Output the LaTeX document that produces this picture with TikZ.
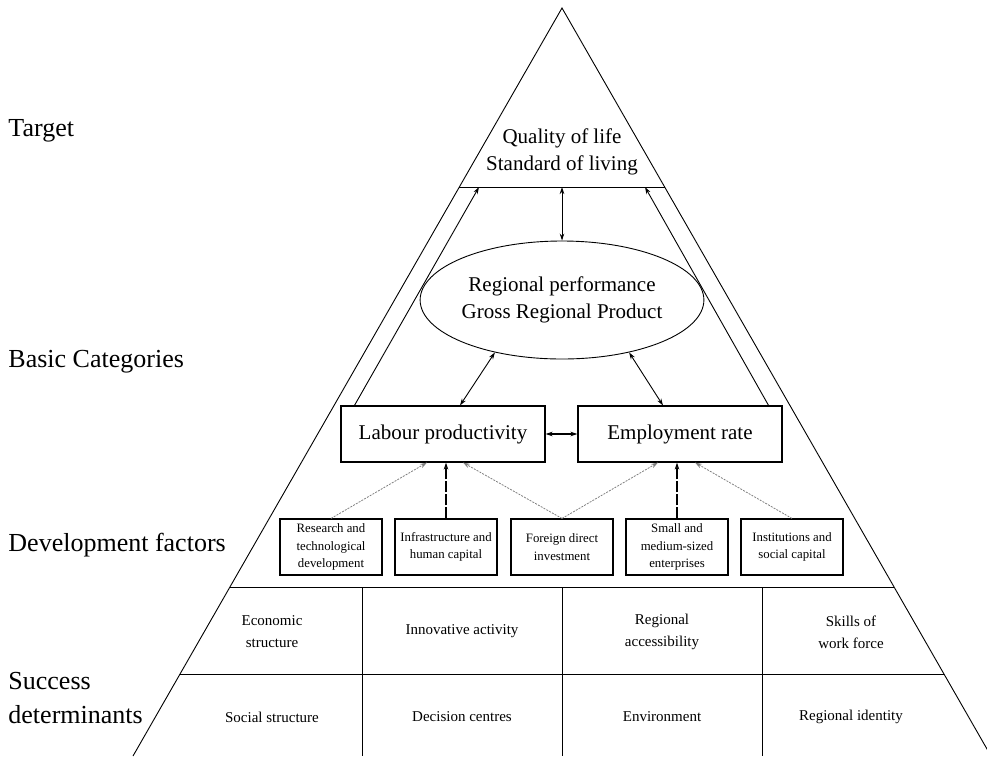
\documentclass[tikz,border=0pt]{standalone}
\usepackage{fontspec}
\setmainfont{Liberation Serif}
\usetikzlibrary{shapes.geometric,arrows.meta,calc}

\begin{document}
\begin{tikzpicture}[x=1pt, y=-1pt, line width=0.9pt, >={Stealth[length=7pt, width=4.5pt]},
	level/.style = {anchor=west, align=left, inner sep=0pt, font=\fontsize{26}{34}\selectfont},
	big/.style = {align=center, font=\fontsize{21}{27}\selectfont},
	category/.style = {big, draw, line width=1.1pt, minimum width=204pt, minimum height=56pt},
	factor/.style = {draw, line width=1.1pt, minimum width=102pt, minimum height=56pt, inner sep=0pt, align=center, font=\fontsize{12.8}{17.5}\selectfont},
	cell/.style = {align=center, font=\fontsize{15}{22}\selectfont},
	weak/.style = {gray, line width=0.8pt, dash pattern=on 2pt off 1.2pt},
	strong/.style = {line width=1.8pt, dash pattern=on 11pt off 2pt}]
					\useasboundingbox (0,0) rectangle (987,756);
					% levels
					\node[level] (target) at (8,131) {Target};
					\node[level] (basic) at (8,362) {Basic Categories};
					\node[level] (devel) at (8,545) {Development factors};
					\node[level] (success) at (8,698) {Success\\determinants};
					% pyramid
					\coordinate (apex) at (562,8);
					\coordinate (bl) at (133,756);
					\coordinate (br) at (991,756);
					\draw (bl) -- (apex) -- (br);
					\coordinate (t1) at ($(apex)!0.2393!(bl)$);
					\coordinate (t2) at ($(apex)!0.2393!(br)$);
					\draw (t1) -- (t2);
					\coordinate (ql) at (479,187);
					\coordinate (qm) at (562,187);
					\coordinate (qr) at (645,187);
					\node[big] (qol) at (562,152) {Quality of life\\Standard of living};
					\node[big, ellipse, draw, minimum width=270pt, minimum height=118pt, inner sep=0pt] (perf) at (562,300) {Regional performance\\Gross Regional Product};
					\node[category] (lab) at (443,434) {Labour productivity};
					\node[category] (emp) at (680,434) {Employment rate};
					\draw[<->] (qm) -- (perf.north);
					\draw[->] ([xshift=14pt]lab.north west) -- (ql);
					\draw[->] ([xshift=-14pt]emp.north east) -- (qr);
					\draw[<->] (perf.218) -- ([xshift=17pt]lab.north);
					\draw[<->] (perf.322) -- ([xshift=-17pt]emp.north);
					\draw[<->, line width=2pt] (lab) -- (emp);
					% factors
					\node[factor] (rtd) at (331,547) {Research and\\technological\\development};
					\node[factor] (ihc) at (446,547) {Infrastructure and\\human capital};
					\node[factor] (fdi) at (562,547) {Foreign direct\\investment};
					\node[factor] (sme) at (677,547) {Small and\\medium-sized\\enterprises};
					\node[factor] (isc) at (792,547) {Institutions and\\social capital};
					\draw[weak, ->] (rtd.north) -- ([xshift=-16pt]lab.south);
					\draw[strong, ->] (ihc.north) -- ([xshift=3pt]lab.south);
					\draw[weak, ->] (fdi.north) -- ([xshift=20pt]lab.south);
					\draw[weak, ->] (fdi.north) -- ([xshift=-22pt]emp.south);
					\draw[strong, ->] (sme.north) -- ([xshift=-3pt]emp.south);
					\draw[weak, ->] (isc.north) -- ([xshift=15pt]emp.south);
					% determinants
					\coordinate (a1) at ($(apex)!0.774!(bl)$);
					\coordinate (b1) at ($(apex)!0.774!(br)$);
					\coordinate (a2) at ($(apex)!0.8904!(bl)$);
					\coordinate (b2) at ($(apex)!0.8904!(br)$);
					\draw (a1) -- (b1) (a2) -- (b2);
					\foreach \x in {362,562,762}
						\draw (\x,587) -- (\x,756);
					\node[cell] (eco) at (272,632) {Economic\\structure};
					\node[cell] (inn) at (462,631) {Innovative activity};
					\node[cell] (acc) at (662,632) {Regional\\accessibility};
					\node[cell] (skl) at (851,632) {Skills of\\work force};
					\node[cell] (soc) at (272,717) {Social structure};
					\node[cell] (dec) at (462,717) {Decision centres};
					\node[cell] (env) at (662,717) {Environment};
					\node[cell] (ide) at (851,717) {Regional identity};
				\end{tikzpicture}
\end{document}
